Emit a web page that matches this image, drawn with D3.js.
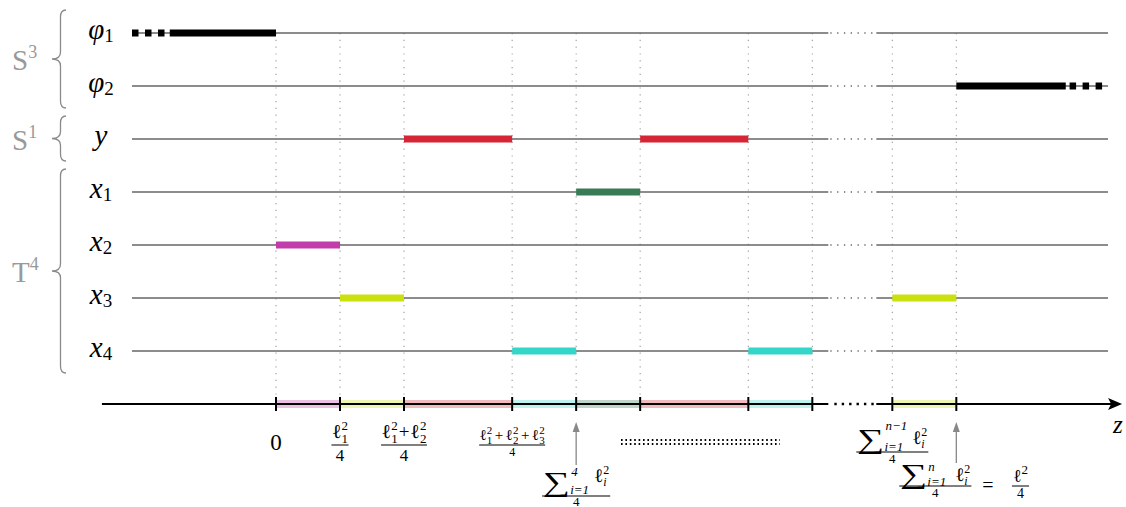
<!DOCTYPE html>
<html><head><meta charset="utf-8">
<script src="https://cdn.jsdelivr.net/npm/d3@7"></script>
<style>
html,body{margin:0;padding:0;background:#fff;}
</style></head>
<body><svg id="c" width="1126" height="507"></svg>
<script>
// ---------- data ----------
const rowSym = ["φ","φ","y","x","x","x","x"];
const rowSub = ["1","2","","1","2","3","4"];
const rowKeys = ["phi1","phi2","y","x1","x2","x3","x4"];
const groupName = ["S","S","T"];
const groupSup = ["3","1","4"];
const groupFirst = [0,2,3];
const groupLast = [1,2,6];
// breakpoints on z (in units of ℓ²/4 steps)
const breaks = [0,1,2,3.69,4.69,5.69,7.38,8.38,9.63,10.63];
// which row is active on each interval [breaks[i], breaks[i+1]]
const intervalRow = ["x2","x3","y","x4","x1","y","x4",null,"x3"];
const phiRow = ["phi1","phi2"];
const phiSolid = [[-1.66,0],[10.63,12.34]];
const phiDash = [[-2.25,-1.72],[12.40,12.95]];
const lineExtent = [-2.25,13.0];
const gapExtent = [8.63,9.38];
const axisExtent = [-2.72,13.22];
const rowColor = {x2:"#c23cab", x3:"#cbe00f", y:"#d62535", x4:"#33d6c9", x1:"#3a7b57"};

// ---------- scales ----------
const FONT = "'Liberation Serif','Times New Roman','DejaVu Serif',serif";
const svg = d3.select("#c").style("font-family", FONT);
const x = d3.scaleLinear().domain([0,1]).range([276,340]);
const y = d3.scalePoint().domain(rowKeys).range([33,351]);
const axisY = 404;
const gray = "#666";

// vertical dotted guides
svg.append("g").selectAll("line").data(breaks).join("line")
  .attr("x1",d=>x(d)).attr("x2",d=>x(d)).attr("y1",y("phi1")).attr("y2",397)
  .attr("stroke","#999").attr("stroke-width",1.1).attr("stroke-dasharray","1.2,5.6");

// row lines with dotted gap
const rl = svg.append("g");
rowKeys.forEach(k=>{
  rl.append("line").attr("x1",x(lineExtent[0])).attr("x2",x(gapExtent[0])).attr("y1",y(k)).attr("y2",y(k))
    .attr("stroke",gray).attr("stroke-width",1.3);
  rl.append("line").attr("x1",x(gapExtent[0])+2).attr("x2",x(gapExtent[1])).attr("y1",y(k)).attr("y2",y(k))
    .attr("stroke",gray).attr("stroke-width",1.3).attr("stroke-dasharray","1.3,5.5");
  rl.append("line").attr("x1",x(gapExtent[1])).attr("x2",x(lineExtent[1])).attr("y1",y(k)).attr("y2",y(k))
    .attr("stroke",gray).attr("stroke-width",1.3);
});

// colored segments
const segs = intervalRow.map((r,i)=>({r, a:breaks[i], b:breaks[i+1]})).filter(d=>d.r);
svg.append("g").selectAll("line").data(segs).join("line")
  .attr("x1",d=>x(d.a)).attr("x2",d=>x(d.b)).attr("y1",d=>y(d.r)).attr("y2",d=>y(d.r))
  .attr("stroke",d=>rowColor[d.r]).attr("stroke-width",7);

// phi bars
phiRow.forEach((k,i)=>{
  svg.append("line").attr("x1",x(phiSolid[i][0])).attr("x2",x(phiSolid[i][1])).attr("y1",y(k)).attr("y2",y(k))
    .attr("stroke","#000").attr("stroke-width",7);
  svg.append("line").attr("x1",x(phiDash[i][0])).attr("x2",x(phiDash[i][1])).attr("y1",y(k)).attr("y2",y(k))
    .attr("stroke","#000").attr("stroke-width",7).attr("stroke-dasharray","6.5,6.5");
});

// axis bands
svg.append("g").selectAll("rect").data(segs).join("rect")
  .attr("x",d=>x(d.a)).attr("width",d=>x(d.b)-x(d.a)).attr("y",axisY-4).attr("height",8)
  .attr("fill",d=>rowColor[d.r]).attr("opacity",0.32);

// axis line
svg.append("line").attr("x1",x(axisExtent[0])).attr("x2",x(gapExtent[0])).attr("y1",axisY).attr("y2",axisY)
  .attr("stroke","#000").attr("stroke-width",2);
svg.append("line").attr("x1",x(gapExtent[0])+6).attr("x2",x(gapExtent[1])).attr("y1",axisY).attr("y2",axisY)
  .attr("stroke","#000").attr("stroke-width",2.4).attr("stroke-dasharray","2.4,5");
svg.append("line").attr("x1",x(gapExtent[1])).attr("x2",x(axisExtent[1])-8).attr("y1",axisY).attr("y2",axisY)
  .attr("stroke","#000").attr("stroke-width",2);
const tip = x(axisExtent[1]);
svg.append("path").attr("d",`M${tip},${axisY} L${tip-14},${axisY-6} L${tip-11},${axisY} L${tip-14},${axisY+6} Z`).attr("fill","#000");
// ticks
svg.append("g").selectAll("line").data(breaks).join("line")
  .attr("x1",d=>x(d)).attr("x2",d=>x(d)).attr("y1",axisY-7).attr("y2",axisY+7)
  .attr("stroke","#000").attr("stroke-width",2);

// z label
svg.append("text").attr("x",1113).attr("y",433).attr("font-size",25).attr("font-style","italic").text("z");

// row labels
rowKeys.forEach((k,i)=>{
  const t = svg.append("text").attr("x",101).attr("y",y(k)+6).attr("text-anchor","middle")
    .attr("font-size",29);
  t.append("tspan").attr("font-style","italic").text(rowSym[i]);
  if(rowSub[i]) t.append("tspan").attr("font-size",19).attr("dy",3).text(rowSub[i]);
});

// braces + group labels
function brace(xr,xl,y0,y1){
  const xm=(xr+xl)/2+1.5, ym=(y0+y1)/2, r=7;
  return `M${xr},${y0} Q${xm},${y0} ${xm},${y0+r} L${xm},${ym-r} Q${xm},${ym} ${xl},${ym} Q${xm},${ym} ${xm},${ym+r} L${xm},${y1-r} Q${xm},${y1} ${xr},${y1}`;
}
groupName.forEach((g,i)=>{
  const y0=y(rowKeys[groupFirst[i]])-23, y1=y(rowKeys[groupLast[i]])+22;
  svg.append("path").attr("d",brace(66,52,y0,y1)).attr("fill","none").attr("stroke","#8a8a8a").attr("stroke-width",1.3);
  const t = svg.append("text").attr("x",12).attr("y",(y0+y1)/2+11).attr("font-size",29).attr("fill","#999");
  t.append("tspan").text(g);
  t.append("tspan").attr("font-size",18).attr("dy",-12).text(groupSup[i]);
});

// ---------- math label helpers ----------
function mrow(parent, items){
  const g = parent.append("g");
  let cx = 0;
  items.forEach(it=>{
    if(it.sp!==undefined){cx+=it.sp;return;}
    const dy = it.dy||0;
    const t=g.append("text").attr("font-size",it.fs)
      .attr("font-style",it.it?"italic":"normal").text(it.t);
    if(it.sy) t.attr("transform",`translate(${cx},${dy}) scale(1,${it.sy})`);
    else t.attr("x",cx).attr("y",dy);
    cx += t.node().getComputedTextLength();
    let aw=0;
    if(it.sup){const s=g.append("text").attr("x",cx+(it.supk||0)).attr("y",dy+it.supdy).attr("font-size",it.afs)
      .attr("font-style",it.supit?"italic":"normal").text(it.sup); aw=Math.max(aw,s.node().getComputedTextLength()+(it.supk||0));}
    if(it.sub){const s=g.append("text").attr("x",cx+(it.subk||0)).attr("y",dy+it.subdy).attr("font-size",it.afs)
      .attr("font-style",it.subit?"italic":"normal").text(it.sub); aw=Math.max(aw,s.node().getComputedTextLength()+(it.subk||0));}
    cx+=aw;
  });
  return {g, w:cx};
}
function place(r, cxm, base){ r.g.attr("transform",`translate(${cxm-r.w/2},${base})`); }
function frac(cxm, barY, num, numOff, den, denOff, pad){
  const n = mrow(svg, num); place(n, cxm, barY-numOff);
  const d = mrow(svg, den); place(d, cxm, barY+denOff);
  const w = Math.max(n.w,d.w)+2*pad;
  svg.append("line").attr("x1",cxm-w/2).attr("x2",cxm+w/2).attr("y1",barY).attr("y2",barY)
    .attr("stroke","#000").attr("stroke-width",1);
}
const ell = (sub,fs,afs)=>({t:"ℓ",fs,afs,sup:"2",supdy:-fs*0.42,sub,subdy:fs*0.25});
const plus = (fs,s)=>[{sp:s},{t:"+",fs},{sp:s}];
const sumItems = (top,supdy,gap,elldy) => [
  {t:"∑",fs:38,sy:0.72,afs:13,sup:top,supdy,supit:true,sub:"i=1",subdy:3,subit:true,supk:1},
  {sp:gap},
  {t:"ℓ",fs:19,afs:12,dy:elldy,sup:"2",supdy:-8,sub:"i",subdy:4,subit:true}];

// axis labels
svg.append("text").attr("x",x(breaks[0])).attr("y",450).attr("text-anchor","middle").attr("font-size",23).text("0");
frac(x(breaks[1]),445,[ell("1",20,13)],7,[{t:"4",fs:17}],16,0.5);
frac(x(breaks[2]),445,[ell("1",20,13),...plus(19,1),ell("2",20,13)],7,[{t:"4",fs:17}],16,0.5);
frac(x(breaks[3]),445,[ell("1",15,11),...plus(15,2.5),ell("2",15,11),...plus(15,2.5),ell("3",15,11)],5,[{t:"4",fs:12}],11,0.5);
frac(x(breaks[4]),496,sumItems("4",-15,5,-9),5,[{t:"4",fs:13}],10,1);
frac(x(breaks[8]),452,sumItems("n−1",-18,5,-4),4,[{t:"4",fs:13}],11,1);
frac(x(breaks[9])-21,486,sumItems("n",-12,9,-2),3,[{t:"4",fs:13}],11,1);
svg.append("text").attr("x",988).attr("y",492).attr("text-anchor","middle").attr("font-size",20).text("=");
frac(1020.5,486,[{t:"ℓ",fs:18,afs:13,sup:"2",supdy:-8}],4,[{t:"4",fs:14}],12,1);

// dotted ellipsis row
[440,444].forEach(yy=>svg.append("line").attr("x1",621).attr("x2",780).attr("y1",yy).attr("y2",yy)
  .attr("stroke","#000").attr("stroke-width",2).attr("stroke-dasharray","1.6,2.8"));

// gray arrows
[[x(breaks[4]),465],[x(breaks[9]),463]].forEach(([ax,ay])=>{
  svg.append("line").attr("x1",ax).attr("x2",ax).attr("y1",ay).attr("y2",430).attr("stroke","#888").attr("stroke-width",1.3);
  svg.append("path").attr("d",`M${ax},${422} L${ax-3.5},${432} L${ax+3.5},${432} Z`).attr("fill","#888");
});
</script></body></html>
